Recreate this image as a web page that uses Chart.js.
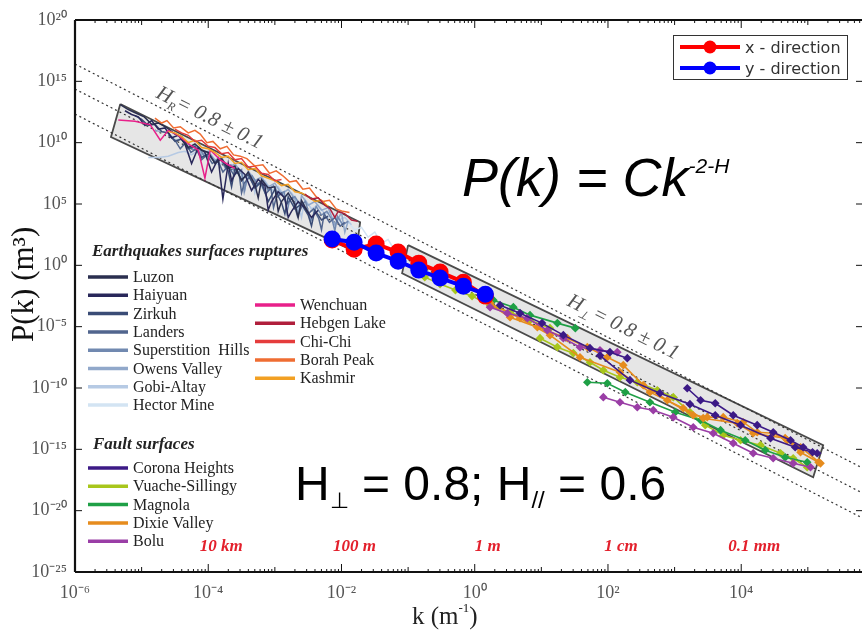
<!DOCTYPE html>
<html>
<head>
<meta charset="utf-8">
<script src="https://cdn.jsdelivr.net/npm/chart.js@4.4.1/dist/chart.umd.min.js"></script>
<style>
  html, body { margin: 0; padding: 0; background: #fff; overflow: hidden; }
</style>
</head>
<body>
<canvas id="c" width="862" height="631"></canvas>
<script>
// every point is [log10 k, log10 P]

// axis ticks
const kTicks = [1e-6, 1e-4, 1e-2, 1, 1e2, 1e4];
const pTicks = [1e20, 1e15, 1e10, 1e5, 1, 1e-5, 1e-10, 1e-15, 1e-20, 1e-25];

// red length scale labels along the bottom
const lengthLabels = ['10 km', '100 m', '1 m', '1 cm', '0.1 mm'];
const lengthLabelK = [1e-4, 1e-2, 1, 1e2, 1e4];

// dotted guide lines (k at both ends, P for each line)
const guideK = [-6, 5.87];
const guideUpper = [16.41, -16.66];
const guideMiddle = [14.37, -18.70];
const guideLower = [12.33, -20.74];

// shaded boxes (closed outlines)
const quakeBox = [[-5.32, 13.15], [-1.72, 3.52], [-1.78, 1.08], [-5.46, 10.46], [-5.32, 13.15]];
const faultBox = [[-1.0, 1.65], [5.23, -14.67], [5.08, -17.28], [-1.09, -0.64], [-1.0, 1.65]];

// x / y direction profiles
const dirK = [-2.14, -1.81, -1.48, -1.15, -0.84, -0.52, -0.17, 0.16];
const xDirP = [2.06, 1.32, 1.73, 1.08, 0.18, -0.55, -1.37, -2.51];
const yDirP = [2.14, 1.89, 1.00, 0.34, -0.39, -1.04, -1.70, -2.35];

// earthquake surface ruptures
const luzon = [[-5.32,13.1],[-5.2,12.7],[-5.08,12.4],[-4.96,12.1],[-4.85,11.5],[-4.74,11.6],[-4.62,11.2],[-4.5,10.7],[-4.4,10.5],[-4.3,9.6],[-4.2,9.9],[-4.1,9.4],[-4.0,9.2],[-3.9,8.3],[-3.8,8.7],[-3.7,7.9],[-3.6,8.1],[-3.5,6.9],[-3.4,7.6],[-3.3,6.6],[-3.25,5.5],[-3.2,7.0],[-3.1,6.3],[-3.0,6.4],[-2.95,4.4],[-2.9,5.2],[-2.8,5.9],[-2.7,5.0],[-2.65,3.9],[-2.6,5.3],[-2.5,4.3]];
const haiyuan = [[-5.25,12.6],[-5.15,12.3],[-5.05,12.1],[-4.95,11.4],[-4.85,11.8],[-4.75,11.1],[-4.65,11.2],[-4.55,10.4],[-4.45,10.6],[-4.35,9.9],[-4.25,8.3],[-4.15,9.6],[-4.05,9.2],[-3.95,7.6],[-3.85,8.7],[-3.78,5.4],[-3.7,8.3],[-3.65,6.9],[-3.55,7.9],[-3.45,7.4],[-3.35,6.1],[-3.25,7.0],[-3.15,6.5],[-3.1,4.5],[-3.05,5.2],[-2.95,6.0],[-2.85,5.5],[-2.8,3.9],[-2.75,4.4],[-2.65,5.2],[-2.55,4.7],[-2.45,3.9],[-2.35,4.5]];
const zirkuh = [[-5.1,12.2],[-5.0,11.9],[-4.9,11.4],[-4.8,11.5],[-4.7,10.9],[-4.6,10.8],[-4.5,10.1],[-4.4,10.3],[-4.3,9.5],[-4.2,9.7],[-4.1,8.8],[-4.0,9.1],[-3.9,8.4],[-3.8,8.6],[-3.7,7.7],[-3.65,6.4],[-3.6,7.9],[-3.5,7.0],[-3.4,7.4],[-3.3,6.3],[-3.2,6.8],[-3.1,5.2],[-3.0,6.2],[-2.9,5.1],[-2.85,4.2],[-2.8,5.6],[-2.7,4.6],[-2.6,5.0],[-2.5,4.1],[-2.45,3.2],[-2.4,4.5],[-2.3,3.7],[-2.2,4.0]];
const landers = [[-4.6,10.6],[-4.5,10.2],[-4.42,9.5],[-4.34,10.0],[-4.26,9.2],[-4.18,9.5],[-4.1,8.6],[-4.02,9.0],[-3.94,8.3],[-3.86,8.6],[-3.78,7.6],[-3.7,8.1],[-3.62,7.4],[-3.54,7.6],[-3.5,5.9],[-3.46,6.7],[-3.38,7.2],[-3.3,6.4],[-3.22,6.8],[-3.14,5.8],[-3.06,6.3],[-3.02,4.7],[-2.98,5.5],[-2.9,5.9],[-2.82,5.0],[-2.74,5.5],[-2.66,4.0],[-2.58,5.0],[-2.5,4.2],[-2.42,4.6],[-2.34,3.8],[-2.3,2.9],[-2.26,4.2],[-2.18,3.5],[-2.1,3.9],[-2.02,3.2],[-1.95,3.5]];
const superstition = [[-4.3,9.9],[-4.22,9.4],[-4.14,9.6],[-4.06,8.9],[-3.98,9.1],[-3.9,8.4],[-3.82,8.7],[-3.74,7.9],[-3.66,8.2],[-3.58,7.5],[-3.5,7.8],[-3.46,6.0],[-3.42,7.0],[-3.34,7.3],[-3.26,6.6],[-3.18,6.9],[-3.1,6.1],[-3.02,6.5],[-2.94,5.8],[-2.86,6.0],[-2.82,4.3],[-2.78,5.3],[-2.7,5.6],[-2.62,4.9],[-2.54,5.2],[-2.46,3.6],[-2.38,4.8],[-2.3,4.1],[-2.22,4.4],[-2.14,3.7],[-2.1,2.8],[-2.06,4.0],[-1.98,3.3],[-1.9,3.6]];
const owensValley = [[-4.8,11.0],[-4.7,10.9],[-4.6,10.8],[-4.5,10.2],[-4.4,10.3],[-4.3,9.6],[-4.2,9.8],[-4.1,9.0],[-4.0,9.3],[-3.9,8.6],[-3.8,8.8],[-3.7,7.9],[-3.6,8.3],[-3.5,7.5],[-3.45,6.2],[-3.4,7.7],[-3.3,6.9],[-3.2,7.2],[-3.1,6.4],[-3.0,6.7],[-2.9,5.8],[-2.8,6.2],[-2.7,5.4],[-2.65,4.2],[-2.6,5.7],[-2.5,4.9],[-2.4,5.2],[-2.3,4.5],[-2.2,4.7],[-2.1,3.3],[-2.0,4.3],[-1.95,2.7],[-1.9,3.6]];
const gobiAltay = [[-4.9,8.8],[-4.75,8.8],[-4.6,8.9],[-4.45,9.2],[-4.35,9.3],[-4.25,9.0],[-4.15,9.4],[-4.05,8.9],[-3.95,8.7],[-3.85,8.2],[-3.75,8.4],[-3.65,7.7],[-3.55,7.9],[-3.45,7.2],[-3.35,7.4],[-3.3,5.9],[-3.25,6.7],[-3.15,6.9],[-3.05,6.1],[-2.95,6.4],[-2.85,5.6],[-2.75,5.9],[-2.65,5.1],[-2.6,3.9],[-2.55,5.4],[-2.45,4.6],[-2.35,4.9],[-2.25,4.2],[-2.15,4.4],[-2.05,3.7],[-1.95,3.9],[-1.85,3.3]];
const hectorMine = [[-3.6,7.6],[-3.5,7.4],[-3.4,6.9],[-3.3,7.0],[-3.2,6.3],[-3.1,6.5],[-3.0,5.9],[-2.9,6.0],[-2.8,5.3],[-2.7,5.5],[-2.6,4.9],[-2.5,5.0],[-2.4,4.3],[-2.3,4.5],[-2.2,3.9],[-2.1,4.0],[-2.0,3.4],[-1.9,3.5],[-1.8,2.9],[-1.7,3.1],[-1.6,2.3],[-1.5,2.7],[-1.4,1.8],[-1.3,2.1],[-1.2,1.2]];
const wenchuan = [[-5.35,11.85],[-5.1,11.75],[-4.87,11.45],[-4.72,10.2],[-4.6,11.0],[-4.45,10.6],[-4.27,9.8],[-4.15,9.4],[-4.05,7.1],[-3.97,9.4],[-3.82,8.6],[-3.7,8.2],[-3.6,7.9]];
const hebgenLake = [[-2.55,5.8],[-2.45,5.4],[-2.35,5.5],[-2.25,4.9],[-2.17,4.6],[-2.1,3.9],[-2.05,4.4],[-1.95,4.2],[-1.85,3.7],[-1.76,3.6]];
const chiChi = [[-4.5,11.1],[-4.4,10.8],[-4.3,10.6],[-4.2,10.1],[-4.1,10.2],[-4.0,9.7],[-3.9,9.6],[-3.8,9.1],[-3.7,9.2],[-3.6,8.6],[-3.5,8.7],[-3.4,8.0],[-3.3,8.1],[-3.2,7.5],[-3.1,7.4],[-3.0,6.9],[-2.9,7.0]];
const borahPeak = [[-4.8,12.0],[-4.7,11.6],[-4.62,11.8],[-4.52,11.2],[-4.42,11.3],[-4.3,10.8],[-4.2,11.0],[-4.12,10.7],[-4.02,10.0],[-3.93,10.1],[-3.82,9.5],[-3.72,9.7],[-3.62,9.0],[-3.52,8.9],[-3.42,8.7],[-3.3,8.1],[-3.18,8.2],[-3.08,7.5],[-2.98,7.7],[-2.88,7.3],[-2.78,6.8],[-2.68,6.9],[-2.58,6.2],[-2.48,6.3],[-2.38,5.6],[-2.28,5.2],[-2.18,5.3],[-2.08,4.6],[-1.98,4.4],[-1.88,4.3]];
const kashmir = [[-4.6,10.9],[-4.5,10.8],[-4.4,10.5],[-4.3,10.0],[-4.2,10.2],[-4.1,9.6],[-4.0,9.5],[-3.9,9.2],[-3.8,8.8],[-3.7,8.9],[-3.6,8.3],[-3.5,8.4],[-3.4,7.8],[-3.3,7.9],[-3.2,7.3],[-3.1,7.1],[-3.0,6.9],[-2.9,6.5],[-2.8,6.6],[-2.7,6.0],[-2.6,5.9],[-2.5,5.6],[-2.4,5.2],[-2.3,5.3],[-2.2,4.8]];

// fault surfaces (some profiles come in two pieces)
const coronaA = [[0.38,-3.25],[0.68,-3.90],[1.01,-4.71],[1.33,-5.69],[1.73,-6.75],[2.03,-7.08],[2.29,-7.57]];
const coronaB = [[3.19,-10.02],[3.39,-11.0],[3.61,-11.24],[3.88,-12.22],[4.24,-13.03],[4.48,-13.61],[4.74,-14.26],[4.93,-14.83],[5.14,-15.32]];
const coronaC = [[1.88,-7.36],[2.33,-9.36],[2.78,-10.42],[3.23,-11.32],[3.61,-12.22],[3.99,-13.03],[4.44,-14.09],[4.81,-14.83],[5.07,-15.24]];
const vuacheA = [[-0.75,-0.96],[-0.52,-1.53],[-0.29,-2.02],[-0.04,-2.51],[0.23,-3.25],[0.53,-3.82],[0.83,-4.47],[1.13,-5.12]];
const vuacheB = [[0.98,-5.94],[1.24,-6.67],[1.48,-7.16],[1.73,-7.90],[1.93,-8.55],[2.18,-9.12],[2.44,-9.53],[2.74,-10.18],[2.98,-10.75],[3.23,-11.97],[3.46,-13.03],[3.73,-13.85],[3.99,-14.26],[4.29,-14.66],[4.59,-15.32],[4.78,-15.73],[4.99,-16.46]];
const magnolaA = [[0.28,-2.84],[0.58,-3.41],[0.83,-4.06],[1.24,-4.71],[1.51,-5.12]];
const magnolaB = [[1.69,-9.53],[1.99,-9.61],[2.26,-10.34],[2.63,-11.16],[3.01,-11.97],[3.39,-12.63],[3.69,-13.44],[4.06,-14.26],[4.36,-15.07],[4.66,-15.65],[4.99,-16.05]];
const dixieA = [[0.13,-2.84],[0.53,-4.23],[0.94,-5.04],[1.39,-5.94],[1.69,-6.67],[1.99,-7.49],[2.23,-8.14],[2.53,-9.77],[2.89,-11.0],[3.28,-12.22],[3.49,-12.38],[3.73,-12.38],[4.03,-12.79],[4.24,-13.61],[4.48,-13.69],[4.69,-14.26],[4.89,-14.83],[5.19,-16.14]];
const dixieB = [[0.23,-3.08],[0.68,-4.31],[1.13,-5.69],[1.58,-7.49],[2.18,-8.71],[2.63,-10.34],[3.13,-11.65],[3.43,-12.46],[3.94,-12.87],[4.18,-13.69],[4.66,-14.09],[4.89,-15.24],[5.16,-16.05]];
const boluA = [[0.23,-3.41],[0.49,-3.90],[0.79,-4.31],[1.09,-5.29],[1.33,-5.94],[1.58,-6.67],[1.88,-6.92],[2.14,-7.08]];
const boluB = [[1.93,-10.75],[2.18,-11.16],[2.44,-11.57],[2.68,-11.81],[2.98,-12.38],[3.28,-13.20],[3.58,-13.69],[3.88,-14.50],[4.18,-15.32],[4.48,-15.73],[4.78,-16.14],[5.04,-16.46]];

// legend names
const quakeNamesLeft = ['Luzon', 'Haiyuan', 'Zirkuh', 'Landers', 'Superstition  Hills', 'Owens Valley', 'Gobi-Altay', 'Hector Mine'];
const quakeNamesRight = ['Wenchuan', 'Hebgen Lake', 'Chi-Chi', 'Borah Peak', 'Kashmir'];
const faultNames = ['Corona Heights', 'Vuache-Sillingy', 'Magnola', 'Dixie Valley', 'Bolu'];
const dirNames = ['x - direction', 'y - direction'];

// colours
const quakeColorsLeft = ['#2b2f4f', '#29285a', '#3a4c76', '#51658e', '#7189b0', '#91a8ca', '#b6cae4', '#d3e4f3'];
const quakeColorsRight = ['#e8208a', '#b01f3c', '#e53c3c', '#ef6d32', '#f2a023'];
const faultColors = ['#3c1a86', '#a8c61c', '#1fa046', '#e68c1e', '#9a3ea6'];
const dirColors = ['#ff0000', '#0000ff'];

const SUP = { '0': '⁰', '1': '¹', '2': '²', '3': '³', '4': '⁴', '5': '⁵', '6': '⁶', '7': '⁷', '8': '⁸', '9': '⁹', '-': '⁻' };
const powLabel = v => '10' + String(Math.round(Math.log10(v))).split('').map(c => SUP[c]).join('');
const toPts = arr => arr.map(([lk, lp]) => ({ x: 10 ** lk, y: 10 ** lp }));

const SERIF = '"Liberation Serif", "Times New Roman", serif';
const SANS = '"Liberation Sans", Arial, sans-serif';

const datasets = [];
const line = (data, color, extra) => datasets.push(Object.assign({
  data, showLine: true, borderColor: color, backgroundColor: color,
  borderWidth: 1.5, pointRadius: 0, fill: false
}, extra));

// top-most first
line(toPts(dirK.map((k, i) => [k, yDirP[i]])), dirColors[1], { borderWidth: 4, pointRadius: 6.5 });
line(toPts(dirK.map((k, i) => [k, xDirP[i]])), dirColors[0], { borderWidth: 4, pointRadius: 6.5 });

const faultMarks = { borderWidth: 1.6, pointRadius: 3.2, pointStyle: 'rectRot' };
[[coronaA, 0], [coronaB, 0], [coronaC, 0], [boluA, 4], [boluB, 4], [dixieA, 3], [dixieB, 3],
 [magnolaA, 2], [magnolaB, 2], [vuacheA, 1], [vuacheB, 1]]
  .forEach(([d, c]) => line(toPts(d), faultColors[c], faultMarks));

[[hebgenLake, 1], [borahPeak, 3], [chiChi, 2], [kashmir, 4], [wenchuan, 0]]
  .forEach(([d, c]) => line(toPts(d), quakeColorsRight[c]));
[[luzon, 0], [haiyuan, 1], [zirkuh, 2], [landers, 3], [superstition, 4], [owensValley, 5], [gobiAltay, 6], [hectorMine, 7]]
  .forEach(([d, c]) => line(toPts(d), quakeColorsLeft[c]));

[guideUpper, guideMiddle, guideLower].forEach(g =>
  line(toPts(guideK.map((k, i) => [k, g[i]])), '#333', { borderWidth: 1.2, borderDash: [2, 3] }));

[quakeBox, faultBox].forEach(b =>
  line(toPts(b), '#4a4a4a', { borderWidth: 1.8, backgroundColor: '#e6e6e6', fill: 'shape' }));

function rich(ctx, x, y, parts) {
  parts.forEach(p => {
    ctx.font = p.font;
    ctx.fillText(p.t, x, y + (p.dy || 0));
    x += ctx.measureText(p.t).width + (p.gap || 0);
  });
}

const decor = {
  id: 'decor',
  afterDraw(chart) {
    const { ctx, chartArea: a, scales: { x, y } } = chart;
    ctx.save();
    ctx.strokeStyle = '#111';
    const seg = (x1, y1, x2, y2) => { ctx.beginPath(); ctx.moveTo(x1, y1); ctx.lineTo(x2, y2); ctx.stroke(); };

    // inward tick marks
    ctx.lineWidth = 1;
    for (let e = -6; e <= 5; e++) {
      for (let m = 1; m < 10; m++) {
        const v = m * 10 ** e;
        if (v < x.min || v > x.max) continue;
        const px = x.getPixelForValue(v);
        const len = m === 1 ? (e % 2 === 0 ? 8 : 5) : 3;
        seg(px, a.bottom, px, a.bottom - len);
        seg(px, a.top, px, a.top + len);
      }
    }
    pTicks.forEach(v => {
      const py = y.getPixelForValue(v);
      seg(a.left, py, a.left + 7, py);
      seg(a.right, py, a.right - 6, py);
    });
    // frame: left, top, bottom (right edge falls outside the picture)
    ctx.lineWidth = 2.2;
    seg(a.left, a.top, a.right, a.top);
    seg(a.left, a.top, a.left, a.bottom);
    seg(a.left, a.bottom, a.right, a.bottom);

    // x axis title
    ctx.fillStyle = '#222';
    ctx.textAlign = 'left';
    ctx.textBaseline = 'alphabetic';
    rich(ctx, 412, 624, [{ t: 'k (m', font: '25px ' + SERIF }, { t: '-1', font: '13px ' + SERIF, dy: -12 }, { t: ')', font: '25px ' + SERIF }]);

    // red length scale
    ctx.fillStyle = '#e3202c';
    ctx.textAlign = 'center';
    ctx.font = 'italic bold 17px ' + SERIF;
    lengthLabels.forEach((t, i) => ctx.fillText(t, x.getPixelForValue(lengthLabelK[i]) + 13, 551));

    // earthquake / fault legends
    ctx.textAlign = 'left';
    ctx.fillStyle = '#222';
    ctx.font = 'italic bold 17px ' + SERIF;
    ctx.fillText('Earthquakes surfaces ruptures', 92, 256);
    ctx.fillText('Fault surfaces', 93, 449);
    const entry = (name, color, x0, yy) => {
      ctx.strokeStyle = color; ctx.lineWidth = 3.5;
      seg(x0, yy, x0 + 40, yy);
      ctx.fillStyle = '#222'; ctx.font = '16px ' + SERIF;
      ctx.fillText(name, x0 + 45, yy + 5);
    };
    quakeNamesLeft.forEach((n, i) => entry(n, quakeColorsLeft[i], 88, 277 + 18.3 * i));
    quakeNamesRight.forEach((n, i) => entry(n, quakeColorsRight[i], 255, 305 + 18.3 * i));
    faultNames.forEach((n, i) => entry(n, faultColors[i], 88, 468 + 18.3 * i));

    // x / y direction legend
    ctx.fillStyle = '#fff';
    ctx.fillRect(673, 35, 174, 44);
    ctx.strokeStyle = '#333'; ctx.lineWidth = 1;
    ctx.strokeRect(673.5, 35.5, 174, 44);
    dirNames.forEach((n, i) => {
      const yy = 47 + 21 * i;
      ctx.strokeStyle = dirColors[i]; ctx.lineWidth = 4;
      seg(680, yy, 740, yy);
      ctx.fillStyle = dirColors[i];
      ctx.beginPath(); ctx.arc(710, yy, 6.5, 0, Math.PI * 2); ctx.fill();
      ctx.fillStyle = '#333'; ctx.font = '16px "DejaVu Sans", sans-serif';
      ctx.fillText(n, 745, yy + 6);
    });

    // rotated slope annotations
    ctx.fillStyle = '#555';
    const slopeText = (x0, y0, sub) => {
      ctx.save();
      ctx.translate(x0, y0);
      ctx.rotate(0.465);
      rich(ctx, 0, 0, [
        { t: 'H', font: 'italic 21px ' + SERIF },
        { t: sub, font: 'italic 12px ' + SERIF, dy: 5 },
        { t: '= 0.8 ± 0.1', font: 'italic 21px ' + SERIF }
      ]);
      ctx.restore();
    };
    slopeText(155, 97, 'R');
    slopeText(566, 305, '⊥ ');

    // big formulas
    ctx.fillStyle = '#000';
    rich(ctx, 462, 196, [
      { t: 'P(k) = Ck', font: 'italic 54px ' + SANS },
      { t: '-2-H', font: 'italic 21px ' + SANS, dy: -23 }
    ]);
    rich(ctx, 295, 500, [
      { t: 'H', font: '48px ' + SANS },
      { t: '⊥', font: '22px ' + SANS, dy: 8 },
      { t: ' = 0.8; H', font: '48px ' + SANS },
      { t: '//', font: '24px ' + SANS, dy: 8 },
      { t: ' = 0.6', font: '48px ' + SANS }
    ]);
    ctx.restore();
  }
};

new Chart(document.getElementById('c'), {
  type: 'scatter',
  data: { datasets },
  options: {
    responsive: false,
    animation: false,
    devicePixelRatio: 1,
    layout: { autoPadding: false, padding: { top: 20, right: 0, left: 0, bottom: 0 } },
    plugins: { legend: { display: false }, tooltip: { enabled: false } },
    scales: {
      x: {
        type: 'logarithmic',
        min: 1e-6,
        max: 6.5e5,
        afterBuildTicks: s => { s.ticks = kTicks.map(v => ({ value: v })); },
        afterFit: s => { s.height = 59; s.paddingLeft = 0; s.paddingRight = 0; },
        grid: { display: false, drawTicks: false },
        border: { display: false },
        ticks: {
          callback: v => powLabel(v),
          font: { family: SERIF, size: 18 },
          color: '#555',
          padding: 10,
          maxRotation: 0,
          autoSkip: false
        }
      },
      y: {
        type: 'logarithmic',
        min: 1e-25,
        max: 1e20,
        afterBuildTicks: s => { s.ticks = pTicks.map(v => ({ value: v })); },
        afterFit: s => { s.width = 75; },
        grid: { display: false, drawTicks: false },
        border: { display: false },
        ticks: {
          callback: v => powLabel(v),
          font: { family: SERIF, size: 18 },
          color: '#555',
          padding: 8,
          autoSkip: false
        },
        title: {
          display: true,
          text: '   P(k) (m³)',
          font: { family: SERIF, size: 31 },
          color: '#111',
          padding: { top: 6, bottom: 0 }
        }
      }
    }
  },
  plugins: [decor]
});
</script>
</body>
</html>
